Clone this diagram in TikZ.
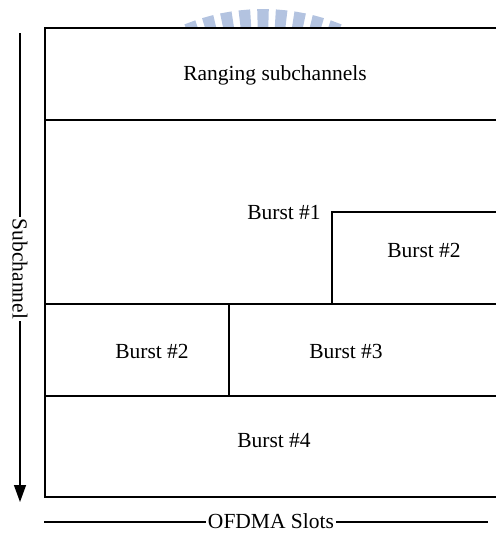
\documentclass[tikz,border=0pt]{standalone}
\usepackage{fontspec}
\setmainfont{Liberation Serif}
\usetikzlibrary{arrows.meta}
\definecolor{crest}{HTML}{B3C3E0}
\begin{document}
\begin{tikzpicture}[x=1pt,y=-1pt,
  frame/.style={line width=1.4pt,black},
  lbl/.style={font=\fontsize{21.5}{25}\selectfont,inner sep=1pt},
  axislbl/.style={font=\fontsize{21.5}{25}\selectfont,fill=white,inner sep=1.5pt}]
\useasboundingbox (0,0) rectangle (496,533);

% crest rays peeking above the frame
\begin{scope}
  \clip (0,0) rectangle (496,28);
  \foreach \k in {-4,...,4}{
    \pgfmathsetmacro{\a}{-90+\k*5.15}
    \fill[crest,shift={(263,217)}] (\a-1.6:208) -- (\a-1.6:150)
      -- (\a+1.6:150) -- (\a+1.6:208) -- cycle;
  }
\end{scope}

% frame of the slot map
\draw[frame] (496,28) -- (45,28) -- (45,497) -- (496,497);
\draw[frame] (45,120) -- (496,120);
\draw[frame] (45,304) -- (496,304);
\draw[frame] (45,396) -- (496,396);
\draw[frame] (332,304) -- (332,212) -- (496,212);
\draw[frame] (229,304) -- (229,396);

% region labels
\node[lbl] (rng) at (275,75) {Ranging subchannels};
\node[lbl] (b1) at (284,213) {Burst \#1};
\node[lbl] (b2a) at (424,250) {Burst \#2};
\node[lbl] (b2b) at (152,351) {Burst \#2};
\node[lbl] (b3) at (346,351) {Burst \#3};
\node[lbl] (b4) at (274,441) {Burst \#4};

% subchannel axis
\coordinate (stop) at (20,33);
\coordinate (sbot) at (20,502);
\draw[line width=1.4pt,-{Triangle[length=17pt,width=12pt]}] (stop) -- (sbot);
\node[axislbl,rotate=-90] (sub) at (20,269) {Subchannel};

% OFDMA slot axis
\coordinate (oleft) at (44,522);
\coordinate (oright) at (488,522);
\draw[line width=1.2pt] (oleft) -- (oright);
\node[axislbl] (ofd) at (271,521) {OFDMA Slots};
\end{tikzpicture}
\end{document}
